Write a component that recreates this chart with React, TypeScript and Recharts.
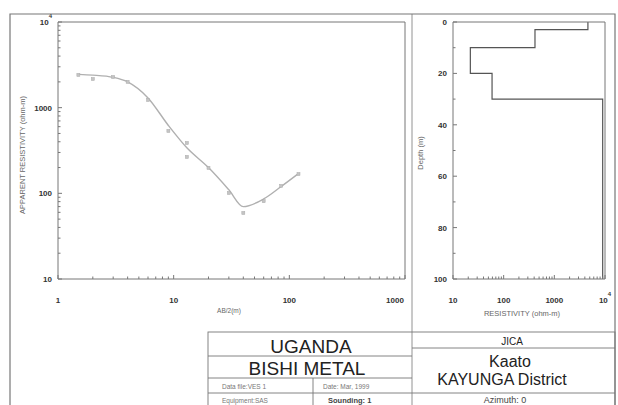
import React from "react";
import { ComposedChart, Line, Scatter, XAxis, YAxis } from "recharts";

// measured apparent resistivity (AB/2 in m, rho_a in ohm-m)
const AB2 = [1.5, 2, 3, 4, 6, 9, 13, 13, 20, 30, 40, 60, 85, 120];
const RHO_A = [2410, 2160, 2280, 2000, 1230, 535, 387, 266, 198, 101, 59, 81, 122, 168];

// calculated (model) curve
const CURVE_AB2 = [1.5, 2, 3, 4, 6, 9, 13, 20, 30, 40, 60, 85, 120];
const CURVE_RHO = [2450, 2400, 2260, 2000, 1300, 620, 340, 200, 110, 70, 86, 120, 170];

// layered model
const LAYER_RHO = [4600, 415, 22, 59, 9000];
const LAYER_TOP = [0, 3, 10, 20, 30];
const LAYER_BOTTOM = [3, 10, 20, 30, 100];

const AB_TICKS = [1, 2, 3, 4, 5, 6, 7, 8, 9, 10, 20, 30, 40, 50, 60, 70, 80, 90, 100, 200, 300, 400, 500, 600, 700, 800, 900, 1000];
const RHOA_TICKS = [10, 20, 30, 40, 50, 60, 70, 80, 90, 100, 200, 300, 400, 500, 600, 700, 800, 900, 1000, 2000, 3000, 4000, 5000, 6000, 7000, 8000, 9000, 10000];
const RHO_TICKS = RHOA_TICKS;
const DEPTH_TICKS = [0, 10, 20, 30, 40, 50, 60, 70, 80, 90, 100];
const LABELED = [1, 10, 100, 1000, 10000, 0, 20, 40, 60, 80];

const measured = AB2.map((ab, i) => ({ ab, rho: RHO_A[i] }));
const curve = CURVE_AB2.map((ab, i) => ({ ab, rho: CURVE_RHO[i] }));
const profile = LAYER_RHO.flatMap((r, i) => [
  { rho: r, depth: LAYER_TOP[i] },
  { rho: r, depth: LAYER_BOTTOM[i] },
]);

const FONT = "'Liberation Sans', Arial, sans-serif";
const AXIS = "#777";
const LABEL = "#333";

const label = (v: number) =>
  v === 10000 ? (
    <>
      10<tspan dy={-7} fontSize={6}>4</tspan>
    </>
  ) : (
    String(v)
  );

// tick renderer: tickSize=0 & tickMargin=0, so x/y sit on the axis line
const makeTick = (side: string, showLabels: boolean, majors: number[], lastShift = 0) => (props: any) => {
  const { x, y, payload } = props;
  const v = payload.value;
  const major = majors.includes(v);
  const len = major ? 4 : 2.5;
  const isLabel = showLabels && LABELED.includes(v) && majors.includes(v);
  const isLast = v === majors[majors.length - 1];
  if (side === "bottom")
    return (
      <g>
        <path d={`M${x},${y}V${y - len}`} stroke={AXIS} />
        {isLabel && (
          <text x={isLast ? x - lastShift : x} y={y + 24} textAnchor="middle" fontSize={8} fontWeight="bold" fill={LABEL} fontFamily={FONT}>
            {label(v)}
          </text>
        )}
      </g>
    );
  if (side === "left")
    return (
      <g>
        <path d={`M${x},${y}H${x + len}`} stroke={AXIS} />
        {isLabel && (
          <text x={x - 6} y={y + 3} textAnchor="end" fontSize={8} fontWeight="bold" fill={LABEL} fontFamily={FONT}>
            {label(v)}
          </text>
        )}
      </g>
    );
  if (side === "top") return <path d={`M${x},${y}V${y + len}`} stroke={AXIS} />;
  return <path d={`M${x},${y}H${x - len}`} stroke={AXIS} />;
};

const Marker = (p: any) => (
  <rect x={p.cx - 1.5} y={p.cy - 1.5} width={3} height={3} fill="#c4c4c4" stroke="#aaa" strokeWidth={0.5} />
);

const axisCommon = {
  tickSize: 0,
  tickMargin: 0,
  interval: 0 as const,
  stroke: AXIS,
};

export default function App() {
  return (
    <div style={{ position: "absolute", left: 0, top: 0, width: 618, height: 405, background: "#fff", overflow: "hidden", fontFamily: FONT }}>
      {/* sounding curve */}
      <div style={{ position: "absolute", left: 0, top: 0 }}>
        <ComposedChart width={420} height={320} margin={{ top: 21, right: 14, left: 18, bottom: 11 }}>
          <XAxis dataKey="ab" type="number" scale="log" domain={[1, 1000]} ticks={AB_TICKS} height={30} tick={makeTick("bottom", true, [1, 10, 100, 1000], 10)} {...axisCommon} />
          <XAxis xAxisId="top" orientation="top" type="number" scale="log" domain={[1, 1000]} ticks={AB_TICKS} height={1} tick={makeTick("top", false, [1, 10, 100, 1000])} {...axisCommon} />
          <YAxis dataKey="rho" type="number" scale="log" domain={[10, 10000]} ticks={RHOA_TICKS} width={40} tick={makeTick("left", true, [10, 100, 1000, 10000])} {...axisCommon} />
          <YAxis yAxisId="right" orientation="right" type="number" scale="log" domain={[10, 10000]} ticks={RHOA_TICKS} width={1} tick={makeTick("right", false, [10, 100, 1000, 10000])} {...axisCommon} />
          <Line data={curve} dataKey="rho" type="monotone" stroke="#b0b0b0" strokeWidth={1.4} dot={false} isAnimationActive={false} />
          <Scatter data={measured} dataKey="rho" shape={Marker} isAnimationActive={false} />
        </ComposedChart>
      </div>

      {/* layered model */}
      <div style={{ position: "absolute", left: 410, top: 0 }}>
        <ComposedChart width={208} height={320} margin={{ top: 21, right: 12, left: 13, bottom: 11 }}>
          <XAxis dataKey="rho" type="number" scale="log" domain={[10, 10000]} ticks={RHO_TICKS} height={30} tick={makeTick("bottom", true, [10, 100, 1000, 10000])} {...axisCommon} />
          <XAxis xAxisId="top" orientation="top" type="number" scale="log" domain={[10, 10000]} ticks={RHO_TICKS} height={1} tick={makeTick("top", false, [10, 100, 1000, 10000])} {...axisCommon} />
          <YAxis dataKey="depth" type="number" reversed domain={[0, 100]} ticks={DEPTH_TICKS} width={30} tick={makeTick("left", true, [0, 20, 40, 60, 80, 100])} {...axisCommon} />
          <YAxis yAxisId="right" orientation="right" type="number" reversed domain={[0, 100]} ticks={DEPTH_TICKS} width={1} tick={makeTick("right", false, [0, 20, 40, 60, 80, 100])} {...axisCommon} />
          <Line data={profile} dataKey="depth" type="linear" stroke="#555" strokeWidth={1.2} dot={false} isAnimationActive={false} />
        </ComposedChart>
      </div>

      {/* frame, titles and title block */}
      <svg width={618} height={405} style={{ position: "absolute", left: 0, top: 0, pointerEvents: "none" }} fontFamily={FONT}>
        <g stroke="#777" strokeWidth={1.2} fill="none">
          <polyline points="10,405 10,14 615,14 615,405" />
          <line x1={412} y1={14} x2={412} y2={405} strokeWidth={0.8} />
          <rect x={208} y={332} width={407} height={80} strokeWidth={0.9} />
          <line x1={208} y1={356} x2={412} y2={356} strokeWidth={0.9} />
          <line x1={208} y1={378} x2={412} y2={378} strokeWidth={0.9} />
          <line x1={208} y1={393} x2={615} y2={393} strokeWidth={0.9} />
          <line x1={313} y1={378} x2={313} y2={405} strokeWidth={0.9} />
          <line x1={412} y1={348} x2={615} y2={348} strokeWidth={0.9} />
        </g>
        <text transform="translate(25,155) rotate(-90)" textAnchor="middle" fontSize={7.5} fill="#666">APPARENT RESISTIVITY (ohm-m)</text>
        <text x={229} y={313} textAnchor="middle" fontSize={6.5} fill="#666">AB/2(m)</text>
        <text transform="translate(423,153) rotate(-90)" textAnchor="middle" fontSize={7.5} fill="#666">Depth (m)</text>
        <text x={522} y={316} textAnchor="middle" fontSize={7.5} fill="#666">RESISTIVITY (ohm-m)</text>

        <text x={311} y={353} textAnchor="middle" fontSize={19} fill="#222">UGANDA</text>
        <text x={307} y={375} textAnchor="middle" fontSize={19} fill="#222">BISHI METAL</text>
        <text x={222} y={389} fontSize={6.5} fill="#777">Data file:VES 1</text>
        <text x={323} y={389} fontSize={6.5} fill="#777">Date: Mar, 1999</text>
        <text x={222} y={403} fontSize={6.5} fill="#777">Equipment:SAS</text>
        <text x={328} y={403} fontSize={7.5} fontWeight="bold" fill="#444">Sounding: 1</text>

        <text x={512} y={345} textAnchor="middle" fontSize={10} fill="#222">JICA</text>
        <text x={510} y={367} textAnchor="middle" fontSize={16} fill="#222">Kaato</text>
        <text x={502} y={385} textAnchor="middle" fontSize={16} fill="#222">KAYUNGA District</text>
        <text x={505} y={403} textAnchor="middle" fontSize={9} fill="#444">Azimuth: 0</text>
      </svg>
    </div>
  );
}
